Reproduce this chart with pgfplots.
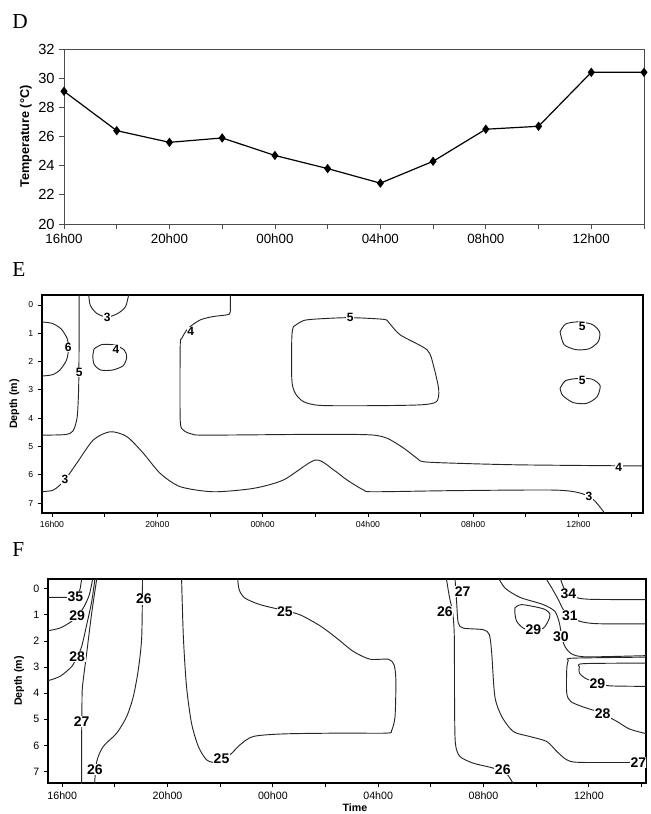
\documentclass[border=0pt]{standalone}
\usepackage{fontspec}
\setmainfont{Liberation Serif}
\setsansfont{Liberation Sans}
\usepackage{pgfplots}
\pgfplotsset{compat=1.18}
\newcommand\fs[1]{\fontsize{#1}{#1}\selectfont}

\pgfplotsset{
  hourticks/.style={
    xtick={0,2,...,22},
    xticklabels={16h00,,20h00,,00h00,,04h00,,08h00,,12h00,},
  },
  contourax/.style={
    scale only axis, anchor=north west,
    y dir=reverse,
    tick align=outside, tick pos=left,
    axis line style={line width=1.1pt},
    major tick length=3pt,
    every tick/.style={black, line width=0.6pt},
    hourticks,
    ytick={0,...,7},
    /pgf/number format/assume math mode=true,
    ylabel style={font=\sffamily\bfseries\fs{8}},
  },
  iso/.style={smooth, tension=0.45, no markers, line width=0.7pt, black!85},
}

\begin{document}
\begin{tikzpicture}[font=\sffamily]
\useasboundingbox (0,0) rectangle (487.5pt,-610.5pt);

% panel letters
\node[anchor=base west, inner sep=0, font=\rmfamily\fs{16}] at (9pt,-21pt) {D};
\node[anchor=base west, inner sep=0, font=\rmfamily\fs{16}] at (9pt,-207pt) {E};
\node[anchor=base west, inner sep=0, font=\rmfamily\fs{16}] at (9pt,-417pt) {F};

% ---------------- D: surface temperature over the day
\begin{axis}[
  at={(48pt,-36.75pt)}, anchor=north west, scale only axis,
  width=435pt, height=131.25pt,
  xmin=0, xmax=22, ymin=20, ymax=32,
  ytick={20,22,...,32}, hourticks,
  tick align=outside, tick pos=left,
  major tick length=3.5pt,
  axis line style={black!70, line width=0.7pt},
  every tick/.style={black!70, line width=0.6pt},
  /pgf/number format/assume math mode=true,
  yticklabel style={font=\sffamily\fs{11}},
  xticklabel style={font=\sffamily\fs{10}},
  ylabel={Temperature (°C)},
  ylabel style={font=\sffamily\bfseries\fs{9.5}, yshift=-2pt},
  clip=false,
]
\addplot[black, line width=0.9pt, mark=diamond*, mark size=2.8pt] coordinates {
  (0,29.1) (2,26.4) (4,25.6) (6,25.9) (8,24.7) (10,23.8)
  (12,22.8) (14,24.3) (16,26.5) (18,26.7) (20,30.4) (22,30.4)
};
\end{axis}

% ---------------- E: depth profile isolines
\begin{axis}[
  contourax,
  at={(31.5pt,-221.25pt)},
  width=450.75pt, height=163.5pt,
  xmin=-0.38, xmax=22.45, ymin=-0.35, ymax=7.35,
  ticklabel style={font=\sffamily\fs{6.5}},
  ylabel={Depth (m)},
]
\addplot[iso] coordinates {(-0.5,0.59) (0.0,0.65) (0.35,0.85) (0.58,1.2) (0.63,1.55) (0.55,1.95) (0.3,2.3) (0.0,2.47) (-0.5,2.52)};
\addplot[iso] coordinates {(1.03,-0.5) (1.03,1.0) (1.02,2.5) (1.0,3.3) (0.95,4.0) (0.8,4.45) (0.5,4.58) (-0.5,4.6)};
\addplot[iso] coordinates {(1.38,-0.5) (1.45,0.0) (1.7,0.3) (2.1,0.43) (2.5,0.3) (2.8,0.05) (2.94,-0.5)};
\addplot[iso] coordinates {(1.6,1.55) (1.9,1.4) (2.4,1.42) (2.75,1.6) (2.84,1.85) (2.7,2.15) (2.3,2.3) (1.85,2.3) (1.6,2.1) (1.55,1.8) (1.6,1.55)};
\addplot[iso] coordinates {(6.77,-0.5) (6.77,0.25) (6.64,0.35) (6.13,0.41) (5.63,0.53) (5.18,0.82) (4.93,1.18) (4.87,1.47) (4.87,4.06) (4.99,4.42) (5.31,4.56) (5.88,4.6) (10.2,4.57) (12.09,4.59) (12.73,4.71) (13.36,5.06) (13.87,5.42) (14.12,5.54) (15.26,5.59) (17.8,5.65) (22.6,5.69)};
\addplot[iso] coordinates {(-0.5,6.6) (0.05,6.54) (0.49,6.18) (0.94,5.59) (1.57,4.77) (2.21,4.48) (2.84,4.65) (3.47,5.24) (4.11,5.95) (4.87,6.42) (6.13,6.6) (7.65,6.48) (8.8,6.18) (10.0,5.48) (10.7,5.83) (11.2,6.18) (11.84,6.54) (12.22,6.6) (15.26,6.56) (19.06,6.54) (20.08,6.65) (20.58,6.89) (21.03,7.4)};
\addplot[iso] coordinates {(9.17,0.77) (9.56,0.55) (10.19,0.49) (11.33,0.45) (12.6,0.51) (12.79,0.62) (13.23,1.06) (14.25,1.59) (14.5,2.18) (14.69,3.0) (14.6,3.42) (13.99,3.53) (12.09,3.56) (10.19,3.55) (9.56,3.42) (9.24,3.12) (9.11,2.65) (9.11,1.12) (9.17,0.77)};
\addplot[iso] coordinates {(19.3,0.95) (19.5,0.68) (19.95,0.6) (20.5,0.68) (20.8,0.95) (20.75,1.3) (20.4,1.55) (19.9,1.58) (19.45,1.4) (19.3,0.95)};
\addplot[iso] coordinates {(19.3,2.95) (19.5,2.68) (19.95,2.6) (20.5,2.62) (20.82,2.85) (20.7,3.25) (20.3,3.48) (19.8,3.45) (19.4,3.2) (19.3,2.95)};
\begin{scope}[every node/.style={fill=white, inner sep=0.4pt, font=\sffamily\bfseries\fs{9}}]
\node at (axis cs:0.62,1.5) {6};
\node at (axis cs:1.03,2.39) {5};
\node at (axis cs:2.1,0.45) {3};
\node at (axis cs:2.43,1.57) {4};
\node at (axis cs:5.27,0.94) {4};
\node at (axis cs:11.33,0.45) {5};
\node at (axis cs:20.14,0.77) {5};
\node at (axis cs:20.14,2.65) {5};
\node at (axis cs:21.53,5.74) {4};
\node at (axis cs:0.49,6.18) {3};
\node at (axis cs:20.4,6.77) {3};
\end{scope}
\end{axis}

% ---------------- F: depth profile isolines
\begin{axis}[
  contourax,
  at={(36pt,-434.25pt)},
  width=448.5pt, height=153pt,
  xmin=-0.54, xmax=22.17, ymin=-0.37, ymax=7.44,
  xticklabel style={font=\sffamily\fs{8}},
  yticklabel style={font=\sffamily\fs{8}},
  ylabel={Depth (m)},
  xlabel={Time},
  xlabel style={font=\sffamily\bfseries\fs{8}, yshift=4pt, xshift=6pt},
]
% 35
\addplot[iso] coordinates {(-0.6,0.33) (0.17,0.33) (0.55,0.29) (0.67,0.04) (0.76,-0.5)};
% 29
\addplot[iso] coordinates {(-0.6,1.62) (-0.09,1.51) (0.36,1.25) (0.57,1.02) (0.8,0.74) (1.03,0.23) (1.18,-0.5)};
% 28
\addplot[iso] coordinates {(-0.6,3.54) (-0.09,3.36) (0.36,2.98) (0.57,2.59) (0.74,2.21) (0.93,1.38) (1.12,0.49) (1.26,-0.5)};
% 27
\addplot[iso] coordinates {(0.74,7.6) (0.74,5.5) (0.75,4.38) (0.77,3.74) (0.93,2.46) (1.12,0.93) (1.33,-0.5)};
% 26 (evening)
\addplot[iso] coordinates {(1.22,7.6) (1.31,6.62) (1.56,6.04) (2.07,5.53) (2.45,4.89) (2.7,4.13) (2.89,3.1) (3.02,1.83) (3.05,-0.5)};
% 25
\addplot[iso] coordinates {(4.53,-0.5) (4.6,1.83) (4.72,3.74) (4.91,5.15) (5.17,6.04) (5.48,6.55) (5.86,6.65) (6.37,6.36) (6.75,5.98) (7.25,5.66) (8.39,5.56) (10.55,5.53) (12.32,5.53) (12.51,5.43) (12.64,4.89) (12.67,3.49) (12.6,2.91) (12.38,2.7) (11.69,2.7) (11.05,2.4) (10.42,1.89) (9.79,1.42) (9.03,1.0) (8.4,0.83) (7.51,0.61) (6.94,0.36) (6.72,0.04) (6.65,-0.5)};
% 26 (morning)
\addplot[iso] coordinates {(14.57,-0.5) (14.7,0.29) (14.83,0.93) (14.89,1.83) (14.9,4.38) (14.93,5.91) (15.1,6.42) (15.61,6.68) (16.37,6.87) (16.88,7.09) (17.2,7.6)};
% 27 (morning)
\addplot[iso] coordinates {(14.91,-0.5) (14.98,0.55) (15.04,1.31) (15.23,1.51) (15.99,1.57) (16.22,1.76) (16.31,2.46) (16.43,4.13) (16.69,4.89) (17.13,5.47) (17.76,5.66) (18.4,5.85) (18.78,6.23) (19.16,6.55) (19.66,6.65) (22.3,6.65)};
% 30
\addplot[iso] coordinates {(16.52,-0.5) (16.81,-0.03) (17.38,0.33) (18.27,0.61) (18.71,0.87) (18.88,1.31) (18.97,1.83) (19.09,2.21) (19.35,2.5) (19.92,2.61) (22.3,2.56)};
% 29 (closed)
\addplot[iso] coordinates {(17.19,0.74) (17.45,0.61) (18.27,0.77) (18.52,0.97) (18.46,1.23) (18.27,1.51) (17.89,1.61) (17.51,1.51) (17.26,1.25) (17.19,0.93) (17.19,0.74)};
% 34
\addplot[iso] coordinates {(18.88,-0.5) (19.05,-0.03) (19.26,0.2) (19.6,0.36) (20.17,0.41) (22.3,0.42)};
% 31
\addplot[iso] coordinates {(18.3,-0.5) (18.59,-0.03) (18.84,0.42) (19.03,0.8) (19.31,1.06) (19.66,1.25) (20.3,1.34) (22.3,1.35)};
% 28 (afternoon)
\addplot[iso] coordinates {(22.3,2.62) (19.41,2.66) (19.22,2.75) (19.16,3.1) (19.16,4.0) (19.31,4.32) (19.79,4.53) (20.42,4.74) (21.06,5.08) (21.56,5.38) (22.3,5.58)};
% 29 (afternoon)
\addplot[iso] coordinates {(22.3,2.85) (19.8,2.87) (19.64,3.0) (19.64,3.23) (19.85,3.42) (20.3,3.61) (20.8,3.72) (22.3,3.74)};
\begin{scope}[every node/.style={fill=white, inner sep=0.4pt, font=\sffamily\bfseries\fs{10.5}}]
\node at (axis cs:0.5,0.29) {35};
\node at (axis cs:0.57,1.02) {29};
\node at (axis cs:0.57,2.59) {28};
\node at (axis cs:0.74,5.08) {27};
\node at (axis cs:1.24,6.93) {26};
\node at (axis cs:3.1,0.4) {26};
\node at (axis cs:8.46,0.87) {25};
\node at (axis cs:6.05,6.49) {25};
\node at (axis cs:14.53,0.87) {26};
\node at (axis cs:16.73,6.93) {26};
\node at (axis cs:15.21,0.1) {27};
\node at (axis cs:21.88,6.65) {27};
\node at (axis cs:18.94,1.83) {30};
\node at (axis cs:17.89,1.57) {29};
\node at (axis cs:19.22,0.2) {34};
\node at (axis cs:19.28,1.02) {31};
\node at (axis cs:20.52,4.79) {28};
\node at (axis cs:20.32,3.64) {29};
\end{scope}
\end{axis}
\end{tikzpicture}
\end{document}
